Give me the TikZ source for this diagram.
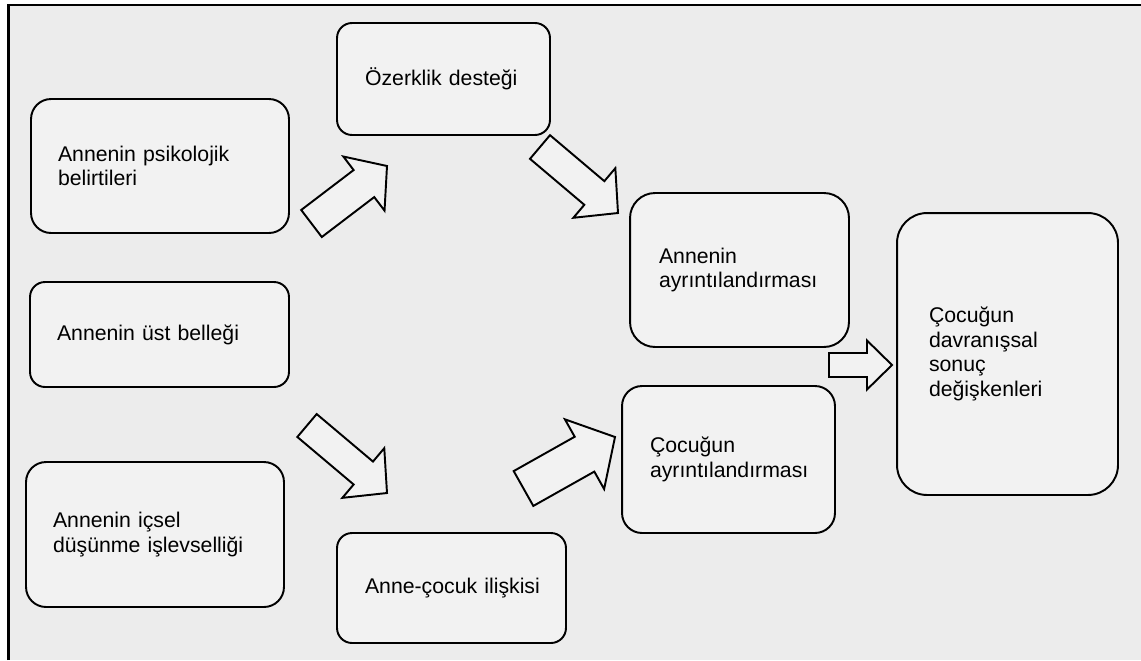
\documentclass[tikz,border=0pt]{standalone}
\usepackage{fontspec}
\setmainfont{Liberation Sans}
\usepackage{tikz}
\usetikzlibrary{calc}
\usetikzlibrary{positioning}
\hyphenpenalty=10000
\exhyphenpenalty=10000
\definecolor{boxGray}{HTML}{F2F2F2}
\definecolor{backGray}{HTML}{ECECEC}
\tikzset{every picture/.style={semithick}}
\tikzset{box/.style={draw, fill=boxGray, line width=1.1pt, rounded corners=0.4cm, align=left, inner ysep=0pt, font=\fontsize{12.1pt}{13.9pt}\selectfont}}
\tikzset{blockArrow/.style={draw, fill=boxGray, line width=1.1pt, line join=miter}}
\newcommand{\blockarrow}[5]{%
    \coordinate (#1base) at ($(#2)!#5!(#1)$);
    \draw[blockArrow] ($(#1)!#3!90:(#2)$) -- ($(#1base)!#3!90:(#2)$) -- ($(#1base)!#4!90:(#2)$) -- (#2)
        -- ($(#1base)!#4!-90:(#2)$) -- ($(#1base)!#3!-90:(#2)$) -- ($(#1)!#3!-90:(#2)$) -- cycle;}

\begin{document}
\begin{tikzpicture}[x=0.02cm, y=-0.02cm]
            \useasboundingbox (0,0) rectangle (1141,660);
            \fill[backGray] (8.5,5) rectangle (1141,660);
            \draw[line width=1.4pt] (8.5,660) -- (8.5,5) -- (1141,5);

            \node[box, text width=4.08cm, inner xsep=0.54cm, minimum height=2.68cm] (psiko) at (160,166) {Annenin psikolojik\\belirtileri};
            \node[box, text width=3.14cm, inner xsep=0.56cm, minimum height=2.24cm, rounded corners=0.3cm] (ozerk) at (443.5,79) {\mbox{Özerklik desteği}};
            \node[box, text width=3.22cm, inner xsep=0.58cm, minimum height=3.08cm, rounded corners=0.5cm] (anneAyr) at (739.5,270) {Annenin\\ayrıntılandırması};
            \node[box, text width=4.10cm, inner xsep=0.54cm, minimum height=2.10cm, rounded corners=0.3cm] (ustBel) at (159.5,334.5) {\mbox{Annenin üst belleği}};
            \node[box, text width=3.14cm, inner xsep=0.56cm, minimum height=2.94cm] (cocAyr) at (728.5,459.5) {Çocuğun\\ayrıntılandırması};
            \node[box, text width=3.14cm, inner xsep=0.64cm, minimum height=5.64cm, rounded corners=0.6cm] (sonuc) at (1007.5,354) {Çocuğun\\davranışsal\\sonuç\\değişkenleri};
            \node[box, text width=4.08cm, inner xsep=0.54cm, minimum height=2.90cm] (icsel) at (155,534.5) {Annenin içsel\\düşünme işlevselliği};
            \node[box, text width=3.46cm, inner xsep=0.56cm, minimum height=2.20cm, rounded corners=0.3cm] (iliski) at (451.5,588) {\mbox{Anne-çocuk ilişkisi}};

            \coordinate (ar1t) at (311.5,223.5);
            \coordinate (ar1h) at (387,166);
            \coordinate (ar2t) at (540,147);
            \coordinate (ar2h) at (618,213);
            \coordinate (ar3t) at (307,425.5);
            \coordinate (ar3h) at (387,493);
            \coordinate (ar4t) at (523.5,488.5);
            \coordinate (ar4h) at (615,437);
            \coordinate (ar5t) at (829,365);
            \coordinate (ar5h) at (892,365);
            \blockarrow{ar1t}{ar1h}{0.34cm}{0.68cm}{0.58cm}
            \blockarrow{ar2t}{ar2h}{0.31cm}{0.65cm}{0.62cm}
            \blockarrow{ar3t}{ar3h}{0.30cm}{0.65cm}{0.62cm}
            \blockarrow{ar4t}{ar4h}{0.40cm}{0.80cm}{0.70cm}
            \blockarrow{ar5t}{ar5h}{0.24cm}{0.49cm}{0.50cm}
        \end{tikzpicture}
\end{document}
